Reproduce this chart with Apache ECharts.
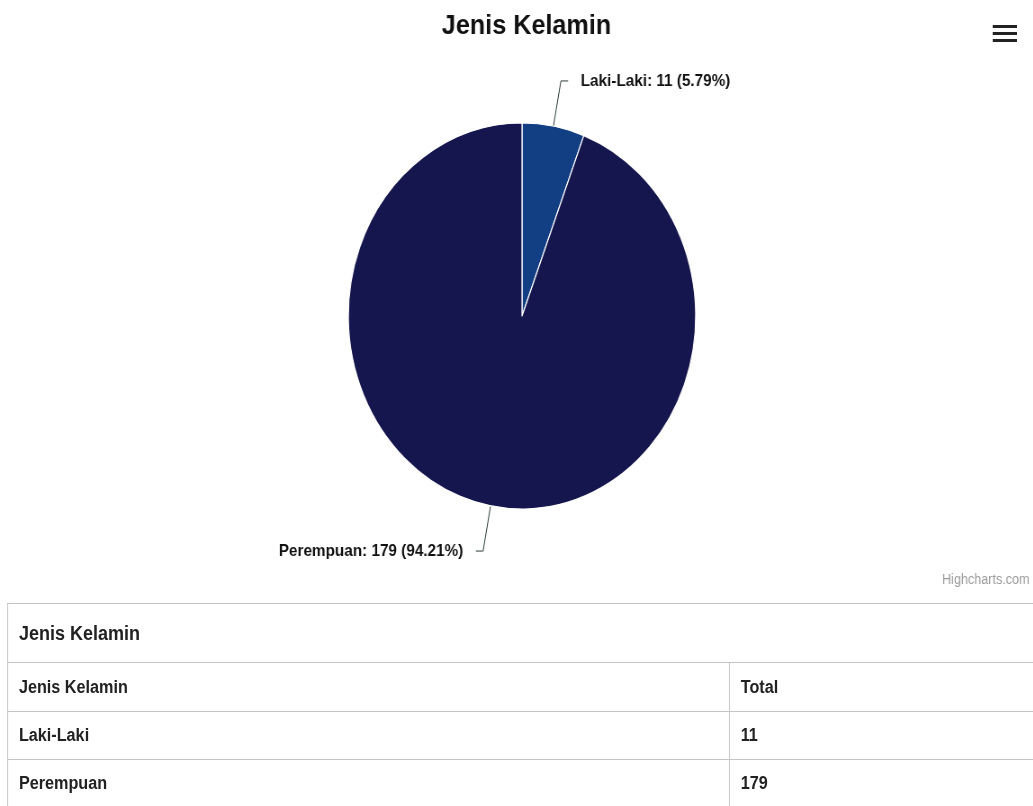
<!DOCTYPE html>
<html>
<head>
<meta charset="utf-8">
<script src="https://cdn.jsdelivr.net/npm/echarts@6/dist/echarts.min.js"></script>
<style>
  html, body { margin: 0; padding: 0; background: #fff; overflow: hidden; }
  /* the reference is squeezed horizontally, so the whole page is drawn wide then squeezed */
  #page { position: relative; width: 1148px; height: 806px; transform: scaleX(0.9); transform-origin: 0 0; }
  #chart { position: absolute; left: 0; top: 0; width: 1148px; height: 600px; }
  #tbl { position: absolute; left: 8px; top: 603px; width: 1160px; border-collapse: collapse;
         font-family: 'Liberation Sans', Arial, sans-serif; color: #222; }
  #tbl td, #tbl th { border: 1px solid #c4c4c4; text-align: left; padding: 0 12px; font-weight: bold; }
  #tbl .cap { font-size: 20px; height: 58px; }
  #tbl th { font-size: 18px; height: 48px; }
  #tbl td { font-size: 18px; height: 47px; }
</style>
</head>
<body>
<div id="page">
  <div id="chart"></div>
  <table id="tbl"></table>
</div>
<script>
var titleText = 'Jenis Kelamin'
var categories = ['Laki-Laki', 'Perempuan']
var totals = [11, 179]
var colors = ['#123e84', '#16164e']
var tableHead = ['Jenis Kelamin', 'Total']

var chart = echarts.init(document.getElementById('chart'), null, { renderer: 'canvas' })

var pieData = categories.map(function(name, i) {
    return { name: name, value: totals[i], itemStyle: { color: colors[i] } }
})

chart.setOption({
    animation: false,
    title: {
        text: titleText,
        left: 580,
        top: 7,
        textAlign: 'center',
        textStyle: { fontFamily: 'Liberation Sans, Arial, sans-serif', fontSize: 28, fontWeight: 'bold', color: '#111' }
    },
    series: [{
        type: 'pie',
        center: [580, 316],
        radius: 193,
        startAngle: 90,
        clockwise: true,
        avoidLabelOverlap: false,
        itemStyle: { borderColor: '#fff', borderWidth: 1.2 },
        label: {
            show: true,
            position: 'outside',
            formatter: '{b}: {c} ({d}%)',
            fontFamily: 'Liberation Sans, Arial, sans-serif',
            fontSize: 17,
            fontWeight: 'bold',
            color: '#111',
            distanceToLabelLine: 14
        },
        labelLine: {
            show: true,
            length: 46,
            length2: 8,
            smooth: false,
            lineStyle: { color: '#2f3b3b', width: 1 }
        },
        emphasis: { disabled: true },
        data: pieData
    }],
    graphic: [
        { type: 'rect', shape: { x: 1103, y: 25, width: 27, height: 3 }, style: { fill: '#222' } },
        { type: 'rect', shape: { x: 1103, y: 32, width: 27, height: 3 }, style: { fill: '#222' } },
        { type: 'rect', shape: { x: 1103, y: 39, width: 27, height: 3 }, style: { fill: '#222' } },
        { type: 'text', x: 1144, y: 573, style: { text: 'Highcharts.com', fill: '#9a9a9a', fontSize: 14,
            fontFamily: 'Liberation Sans, Arial, sans-serif', textAlign: 'right' } }
    ]
})

// table below the chart, built from the same arrays
var html = '<tr><td class="cap" colspan="2">' + titleText + '</td></tr>'
html += '<tr><th style="width:777px">' + tableHead[0] + '</th><th>' + tableHead[1] + '</th></tr>'
categories.forEach(function(name, i) {
    html += '<tr><td>' + name + '</td><td>' + totals[i] + '</td></tr>'
})
document.getElementById('tbl').innerHTML = html
</script>
</body>
</html>
